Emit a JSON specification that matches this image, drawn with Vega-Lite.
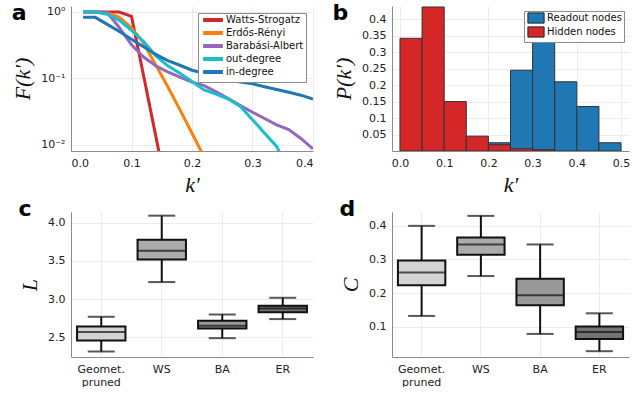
{
  "$schema": "https://vega.github.io/schema/vega-lite/v6.json",
  "background": "white",
  "padding": {"left": 11, "top": 1, "right": 0, "bottom": 0},
  "bounds": "flush",
  "columns": 2,
  "spacing": {"row": 61, "column": 79},
  "config": {
    "view": {"stroke": null},
    "axis": {
      "labelFont": "DejaVu Sans", "labelFontSize": 11, "labelColor": "#222222",
      "domainColor": "#8a8a8a", "domainWidth": 1,
      "gridColor": "#ececec", "gridWidth": 1,
      "ticks": false, "labelPadding": 6,
      "titleFont": "Liberation Serif", "titleFontStyle": "italic", "titleFontWeight": "normal",
      "titleFontSize": 22, "titleColor": "#111111", "titlePadding": 6
    },
    "legend": {"labelFont": "DejaVu Sans", "labelFontSize": 10, "labelColor": "#111111"}
  },
  "datasets": {
    "curves": [
      {"series": "Watts-Strogatz", "k": 0.02, "F": 1.0},
      {"series": "Watts-Strogatz", "k": 0.04, "F": 1.0},
      {"series": "Watts-Strogatz", "k": 0.06, "F": 1.0},
      {"series": "Watts-Strogatz", "k": 0.08, "F": 1.0},
      {"series": "Watts-Strogatz", "k": 0.10, "F": 0.86},
      {"series": "Watts-Strogatz", "k": 0.12, "F": 0.11},
      {"series": "Watts-Strogatz", "k": 0.14, "F": 0.0138},
      {"series": "Watts-Strogatz", "k": 0.16, "F": 0.0017},
      {"series": "Erdős-Rényi", "k": 0.02, "F": 1.0},
      {"series": "Erdős-Rényi", "k": 0.04, "F": 1.0},
      {"series": "Erdős-Rényi", "k": 0.06, "F": 0.97},
      {"series": "Erdős-Rényi", "k": 0.08, "F": 0.83},
      {"series": "Erdős-Rényi", "k": 0.10, "F": 0.58},
      {"series": "Erdős-Rényi", "k": 0.12, "F": 0.34},
      {"series": "Erdős-Rényi", "k": 0.14, "F": 0.16},
      {"series": "Erdős-Rényi", "k": 0.16, "F": 0.075},
      {"series": "Erdős-Rényi", "k": 0.18, "F": 0.034},
      {"series": "Erdős-Rényi", "k": 0.20, "F": 0.015},
      {"series": "Erdős-Rényi", "k": 0.22, "F": 0.0066},
      {"series": "Barabási-Albert", "k": 0.02, "F": 1.0},
      {"series": "Barabási-Albert", "k": 0.04, "F": 1.0},
      {"series": "Barabási-Albert", "k": 0.06, "F": 0.98},
      {"series": "Barabási-Albert", "k": 0.08, "F": 0.58},
      {"series": "Barabási-Albert", "k": 0.10, "F": 0.32},
      {"series": "Barabási-Albert", "k": 0.12, "F": 0.21},
      {"series": "Barabási-Albert", "k": 0.14, "F": 0.155},
      {"series": "Barabási-Albert", "k": 0.16, "F": 0.125},
      {"series": "Barabási-Albert", "k": 0.18, "F": 0.105},
      {"series": "Barabási-Albert", "k": 0.20, "F": 0.088},
      {"series": "Barabási-Albert", "k": 0.22, "F": 0.078},
      {"series": "Barabási-Albert", "k": 0.24, "F": 0.063},
      {"series": "Barabási-Albert", "k": 0.26, "F": 0.05},
      {"series": "Barabási-Albert", "k": 0.28, "F": 0.039},
      {"series": "Barabási-Albert", "k": 0.30, "F": 0.031},
      {"series": "Barabási-Albert", "k": 0.32, "F": 0.025},
      {"series": "Barabási-Albert", "k": 0.34, "F": 0.02},
      {"series": "Barabási-Albert", "k": 0.36, "F": 0.017},
      {"series": "Barabási-Albert", "k": 0.38, "F": 0.0125},
      {"series": "Barabási-Albert", "k": 0.40, "F": 0.0087},
      {"series": "out-degree", "k": 0.02, "F": 1.0},
      {"series": "out-degree", "k": 0.04, "F": 1.0},
      {"series": "out-degree", "k": 0.06, "F": 0.92},
      {"series": "out-degree", "k": 0.08, "F": 0.75},
      {"series": "out-degree", "k": 0.10, "F": 0.53},
      {"series": "out-degree", "k": 0.12, "F": 0.36},
      {"series": "out-degree", "k": 0.14, "F": 0.22},
      {"series": "out-degree", "k": 0.16, "F": 0.155},
      {"series": "out-degree", "k": 0.18, "F": 0.12},
      {"series": "out-degree", "k": 0.20, "F": 0.09},
      {"series": "out-degree", "k": 0.22, "F": 0.067},
      {"series": "out-degree", "k": 0.24, "F": 0.058},
      {"series": "out-degree", "k": 0.26, "F": 0.049},
      {"series": "out-degree", "k": 0.28, "F": 0.038},
      {"series": "out-degree", "k": 0.30, "F": 0.024},
      {"series": "out-degree", "k": 0.32, "F": 0.015},
      {"series": "out-degree", "k": 0.34, "F": 0.0095},
      {"series": "out-degree", "k": 0.36, "F": 0.004},
      {"series": "in-degree", "k": 0.02, "F": 0.83},
      {"series": "in-degree", "k": 0.04, "F": 0.83},
      {"series": "in-degree", "k": 0.06, "F": 0.65},
      {"series": "in-degree", "k": 0.08, "F": 0.51},
      {"series": "in-degree", "k": 0.10, "F": 0.39},
      {"series": "in-degree", "k": 0.12, "F": 0.30},
      {"series": "in-degree", "k": 0.14, "F": 0.23},
      {"series": "in-degree", "k": 0.16, "F": 0.185},
      {"series": "in-degree", "k": 0.18, "F": 0.158},
      {"series": "in-degree", "k": 0.20, "F": 0.133},
      {"series": "in-degree", "k": 0.22, "F": 0.12},
      {"series": "in-degree", "k": 0.24, "F": 0.105},
      {"series": "in-degree", "k": 0.26, "F": 0.095},
      {"series": "in-degree", "k": 0.28, "F": 0.088},
      {"series": "in-degree", "k": 0.30, "F": 0.083},
      {"series": "in-degree", "k": 0.32, "F": 0.075},
      {"series": "in-degree", "k": 0.34, "F": 0.068},
      {"series": "in-degree", "k": 0.36, "F": 0.062},
      {"series": "in-degree", "k": 0.38, "F": 0.056},
      {"series": "in-degree", "k": 0.40, "F": 0.049}
    ],
    "hist": [
      {"group": "Readout nodes", "lo": 0.20, "hi": 0.25, "p": 0.025},
      {"group": "Readout nodes", "lo": 0.25, "hi": 0.30, "p": 0.245},
      {"group": "Readout nodes", "lo": 0.30, "hi": 0.35, "p": 0.36},
      {"group": "Readout nodes", "lo": 0.35, "hi": 0.40, "p": 0.21},
      {"group": "Readout nodes", "lo": 0.40, "hi": 0.45, "p": 0.135},
      {"group": "Readout nodes", "lo": 0.45, "hi": 0.50, "p": 0.025},
      {"group": "Hidden nodes", "lo": 0.00, "hi": 0.05, "p": 0.342},
      {"group": "Hidden nodes", "lo": 0.05, "hi": 0.10, "p": 0.437},
      {"group": "Hidden nodes", "lo": 0.10, "hi": 0.15, "p": 0.15},
      {"group": "Hidden nodes", "lo": 0.15, "hi": 0.20, "p": 0.045},
      {"group": "Hidden nodes", "lo": 0.20, "hi": 0.25, "p": 0.019},
      {"group": "Hidden nodes", "lo": 0.25, "hi": 0.30, "p": 0.007},
      {"group": "Hidden nodes", "lo": 0.30, "hi": 0.35, "p": 0.004}
    ],
    "pathlen": [
      {"cat": "Geomet. pruned", "lo": 2.312, "q1": 2.456, "med": 2.566, "q3": 2.64, "hi": 2.767},
      {"cat": "WS", "lo": 3.222, "q1": 3.519, "med": 3.633, "q3": 3.777, "hi": 4.092},
      {"cat": "BA", "lo": 2.487, "q1": 2.614, "med": 2.649, "q3": 2.714, "hi": 2.797},
      {"cat": "ER", "lo": 2.737, "q1": 2.828, "med": 2.876, "q3": 2.911, "hi": 3.016}
    ],
    "clust": [
      {"cat": "Geomet. pruned", "lo": 0.1325, "q1": 0.223, "med": 0.2613, "q3": 0.2967, "hi": 0.399},
      {"cat": "WS", "lo": 0.2505, "q1": 0.3134, "med": 0.344, "q3": 0.3646, "hi": 0.4285},
      {"cat": "BA", "lo": 0.0793, "q1": 0.164, "med": 0.1934, "q3": 0.2426, "hi": 0.344},
      {"cat": "ER", "lo": 0.0282, "q1": 0.0646, "med": 0.0852, "q3": 0.101, "hi": 0.1403}
    ]
  },
  "concat": [
    {
      "width": 242, "height": 145,
      "title": {"text": "a", "anchor": "start", "frame": "bounds", "offset": -36, "baseline": "alphabetic", "font": "DejaVu Sans", "fontSize": 22, "fontWeight": "bold", "color": "#000000"},
      "data": {"name": "curves"},
      "mark": {"type": "line", "strokeWidth": 3, "clip": true},
      "encoding": {
        "x": {"field": "k", "type": "quantitative", "scale": {"domain": [0, 0.4], "nice": false, "zero": false},
              "axis": {"values": [0, 0.1, 0.2, 0.3, 0.4], "format": ".1f", "title": "k′"}},
        "y": {"field": "F", "type": "quantitative", "scale": {"type": "log", "domain": [0.0081, 1.23], "nice": false},
              "axis": {"values": [0.01, 0.1, 1], "labelExpr": "datum.value > 0.5 ? '10⁰' : (datum.value > 0.05 ? '10⁻¹' : '10⁻²')", "title": "F(k′)"}},
        "color": {"field": "series", "type": "nominal", "sort": ["Watts-Strogatz", "Erdős-Rényi", "Barabási-Albert", "out-degree", "in-degree"],
                  "scale": {"domain": ["Watts-Strogatz", "Erdős-Rényi", "Barabási-Albert", "out-degree", "in-degree"],
                            "range": ["#d62728", "#ff7f0e", "#9467bd", "#17becf", "#1f77b4"]},
                  "legend": {"title": null, "orient": "top-right", "offset": 7, "fillColor": "white", "strokeColor": "#8a8a8a",
                             "padding": 2, "symbolType": "M-3.3,0H3.3", "symbolSize": 36, "symbolStrokeWidth": 4,
                             "symbolOffset": 8, "labelOffset": 8, "rowPadding": -3, "cornerRadius": 0}}
      }
    },
    {
      "width": 237, "height": 145,
      "title": {"text": "b", "anchor": "start", "frame": "bounds", "offset": -36, "baseline": "alphabetic", "font": "DejaVu Sans", "fontSize": 22, "fontWeight": "bold", "color": "#000000"},
      "data": {"name": "hist"},
      "mark": {"type": "bar", "stroke": "#333333", "strokeWidth": 1, "clip": true},
      "encoding": {
        "x": {"field": "lo", "type": "quantitative", "scale": {"domain": [-0.018, 0.518], "nice": false, "zero": false},
              "axis": {"values": [0, 0.1, 0.2, 0.3, 0.4, 0.5], "format": ".1f", "title": "k′"}},
        "x2": {"field": "hi"},
        "y": {"field": "p", "type": "quantitative", "scale": {"domain": [0, 0.44], "nice": false},
              "axis": {"values": [0.05, 0.1, 0.15, 0.2, 0.25, 0.3, 0.35, 0.4], "format": ".2~f", "title": "P(k′)"}},
        "y2": {"datum": 0},
        "color": {"field": "group", "type": "nominal",
                  "scale": {"domain": ["Readout nodes", "Hidden nodes"], "range": ["#1f77b4", "#d62728"]},
                  "legend": {"title": null, "orient": "top-right", "offset": 5, "fillColor": "white", "strokeColor": "#8a8a8a",
                             "padding": 2, "symbolType": "M-2.7,-1.7H2.7V1.7H-2.7Z", "symbolSize": 36, "symbolStrokeWidth": 1,
                             "symbolStrokeColor": "#222222", "symbolOpacity": 1, "symbolOffset": 5, "labelOffset": 6, "rowPadding": -2, "cornerRadius": 0}}
      }
    },
    {
      "width": 242, "height": 145,
      "title": {"text": "c", "anchor": "start", "frame": "bounds", "offset": -26, "baseline": "alphabetic", "font": "DejaVu Sans", "fontSize": 22, "fontWeight": "bold", "color": "#000000"},
      "data": {"name": "pathlen"},
      "encoding": {
        "x": {"field": "cat", "type": "nominal", "sort": ["Geomet. pruned", "WS", "BA", "ER"],
              "scale": {"paddingInner": 0, "paddingOuter": 0},
              "axis": {"title": null, "labelAngle": 0, "bandPosition": 0.5, "grid": true,
                       "labelExpr": "datum.label == 'Geomet. pruned' ? ['Geomet.', 'pruned'] : datum.label", "labelLineHeight": 13}}
      },
      "layer": [
        {"mark": {"type": "rule", "color": "#111111", "strokeWidth": 2},
         "encoding": {"y": {"field": "lo", "type": "quantitative", "scale": {"domain": [2.24, 4.14], "nice": false, "zero": false},
                            "axis": {"values": [2.5, 3.0, 3.5, 4.0], "format": ".1f", "title": "L"}},
                      "y2": {"field": "hi"}}},
        {"mark": {"type": "bar", "stroke": "#111111", "strokeWidth": 2, "width": {"band": 0.8}},
         "encoding": {"y": {"field": "q1", "type": "quantitative"}, "y2": {"field": "q3"},
                      "color": {"field": "cat", "type": "nominal", "legend": null,
                                "scale": {"domain": ["Geomet. pruned", "WS", "BA", "ER"], "range": ["#d3d3d3", "#ababab", "#999999", "#737373"]}}}},
        {"mark": {"type": "tick", "color": "#111111", "thickness": 2, "size": 27},
         "encoding": {"y": {"field": "lo", "type": "quantitative"}}},
        {"mark": {"type": "tick", "color": "#111111", "thickness": 2, "size": 27},
         "encoding": {"y": {"field": "hi", "type": "quantitative"}}},
        {"mark": {"type": "tick", "color": "#111111", "thickness": 2, "size": 48},
         "encoding": {"y": {"field": "med", "type": "quantitative"}}}
      ]
    },
    {
      "width": 237, "height": 145,
      "title": {"text": "d", "anchor": "start", "frame": "bounds", "offset": -26, "baseline": "alphabetic", "font": "DejaVu Sans", "fontSize": 22, "fontWeight": "bold", "color": "#000000"},
      "data": {"name": "clust"},
      "encoding": {
        "x": {"field": "cat", "type": "nominal", "sort": ["Geomet. pruned", "WS", "BA", "ER"],
              "scale": {"paddingInner": 0, "paddingOuter": 0},
              "axis": {"title": null, "labelAngle": 0, "bandPosition": 0.5, "grid": true,
                       "labelExpr": "datum.label == 'Geomet. pruned' ? ['Geomet.', 'pruned'] : datum.label", "labelLineHeight": 13}}
      },
      "layer": [
        {"mark": {"type": "rule", "color": "#111111", "strokeWidth": 2},
         "encoding": {"y": {"field": "lo", "type": "quantitative", "scale": {"domain": [0.011, 0.44], "nice": false, "zero": false},
                            "axis": {"values": [0.1, 0.2, 0.3, 0.4], "format": ".1f", "title": "C"}},
                      "y2": {"field": "hi"}}},
        {"mark": {"type": "bar", "stroke": "#111111", "strokeWidth": 2, "width": {"band": 0.8}},
         "encoding": {"y": {"field": "q1", "type": "quantitative"}, "y2": {"field": "q3"},
                      "color": {"field": "cat", "type": "nominal", "legend": null,
                                "scale": {"domain": ["Geomet. pruned", "WS", "BA", "ER"], "range": ["#d3d3d3", "#ababab", "#999999", "#737373"]}}}},
        {"mark": {"type": "tick", "color": "#111111", "thickness": 2, "size": 27},
         "encoding": {"y": {"field": "lo", "type": "quantitative"}}},
        {"mark": {"type": "tick", "color": "#111111", "thickness": 2, "size": 27},
         "encoding": {"y": {"field": "hi", "type": "quantitative"}}},
        {"mark": {"type": "tick", "color": "#111111", "thickness": 2, "size": 47},
         "encoding": {"y": {"field": "med", "type": "quantitative"}}}
      ]
    }
  ],
  "resolve": {"scale": {"color": "independent", "x": "independent", "y": "independent"}, "legend": {"color": "independent"}, "axis": {"x": "independent", "y": "independent"}}
}
